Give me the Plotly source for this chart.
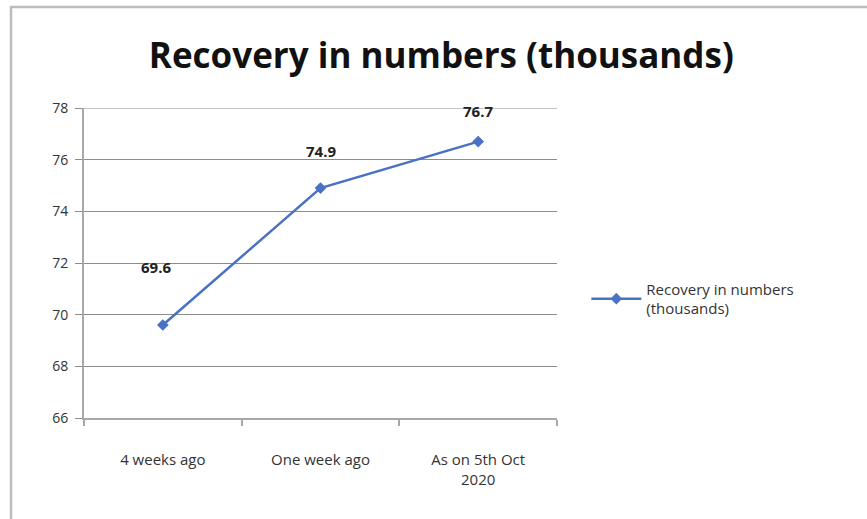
import plotly.graph_objects as go

# Recovery figures in thousands
categories = ["4 weeks ago", "One week ago", "As on 5th Oct<br>2020"]
recovery = [69.6, 74.9, 76.7]
y_ticks = [66, 68, 70, 72, 74, 76, 78]
series_name = "Recovery in numbers<br>(thousands)"

# vertical offsets (px) of the value labels above each point
label_shift = [58, 37, 31]

LINE = "#4A72C4"
GRID = "#8C8C8C"
FONT = "Open Sans, Lato, sans-serif"

fig = go.Figure()
fig.add_trace(go.Scatter(
    x=[0, 1, 2], y=recovery, mode="lines+markers", name=series_name,
    line=dict(color=LINE, width=2.5),
    marker=dict(symbol="diamond", size=9, color=LINE),
))

for i, v in enumerate(recovery):
    fig.add_annotation(x=i, y=v, text=f"<b>{v}</b>", showarrow=False,
                       yshift=label_shift[i], xshift=(-7 if i == 0 else 0),
                       font=dict(size=15, color="#222222", family=FONT))

# top gridline drawn explicitly so it shows at the range edge
fig.add_shape(type="line", xref="paper", yref="y", x0=0, x1=1, y0=78, y1=78,
              line=dict(color=GRID, width=1.2), layer="below")

# outer chart frame
fig.add_shape(type="rect", xref="paper", yref="paper",
              x0=(11 - 84) / 473, x1=(880 - 84) / 473,
              y0=-(530 - 418) / 310, y1=(418 - 7) / 310,
              line=dict(color="#BDBDBD", width=2.5), layer="below")

fig.update_layout(
    width=867, height=519,
    margin=dict(l=84, r=310, t=108, b=101),
    paper_bgcolor="white", plot_bgcolor="white",
    title=dict(text="<b>Recovery in numbers (thousands)</b>", x=0.509, xref="container",
               xanchor="center", y=0.893, yanchor="middle",
               font=dict(size=35, family=FONT, color="#111111")),
    showlegend=True,
    legend=dict(x=1.062, y=0.385, xanchor="left", yanchor="middle",
                font=dict(size=15, family=FONT, color="#333333"),
                itemwidth=50, tracegroupgap=0),
    font=dict(family=FONT),
)

fig.update_xaxes(
    range=[-0.5, 2.5], tickmode="array", tickvals=[0, 1, 2], ticktext=categories,
    showgrid=False, showline=True, linecolor="#A8A8A8", linewidth=2,
    ticks="", tickfont=dict(size=15, color="#333333"), zeroline=False,
    ticklabelstandoff=27,
)
fig.update_xaxes(minor=dict(tickvals=[-0.5, 0.5, 1.5, 2.5], ticks="outside",
                            ticklen=6, tickcolor="#A8A8A8", tickwidth=1.5))
fig.update_yaxes(
    range=[66, 78], tickvals=y_ticks, showgrid=True, gridcolor=GRID, gridwidth=1.2,
    showline=True, linecolor="#A8A8A8", linewidth=2,
    ticks="outside", ticklen=7, tickcolor=GRID,
    tickfont=dict(size=14, color="#333333"), zeroline=False,
    ticklabelstandoff=4,
)

fig.write_html("out.html")
